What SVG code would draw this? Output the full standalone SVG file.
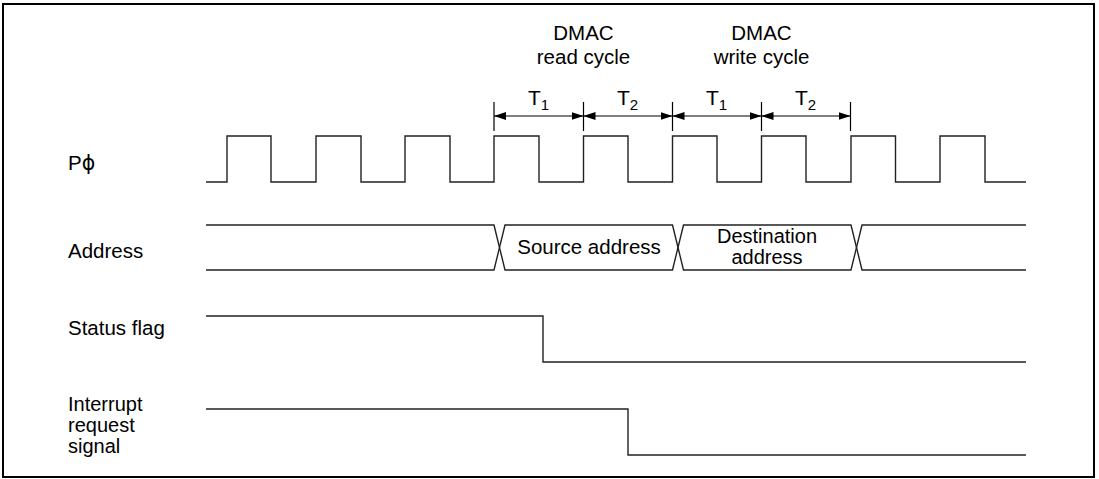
<svg xmlns="http://www.w3.org/2000/svg" width="1099" height="479" viewBox="0 0 1099 479">
<style>
text{font-family:"Liberation Sans",Arial,sans-serif;font-size:20.5px;fill:#000}
.sig{fill:none;stroke:#222;stroke-width:1.4}
.dim{fill:none;stroke:#000;stroke-width:1.2}
.mid{text-anchor:middle}
.sm{font-size:20px}
.t{font-size:21px}
.sub{font-size:15px}
</style>
<defs>
<marker id="ah" viewBox="0 0 12 8" refX="12" refY="4" markerWidth="12" markerHeight="8" markerUnits="userSpaceOnUse" orient="auto-start-reverse">
<path d="M0,0 L12,4 L0,8 Z" fill="#000"/>
</marker>
</defs>
<rect x="3" y="4" width="1091" height="473" fill="#fff" stroke="#000" stroke-width="2"/>

<g id="labels">
<text x="68" y="170">P<tspan style="font-family:'DejaVu Sans',sans-serif">ϕ</tspan></text>
<text x="68" y="258">Address</text>
<text x="68" y="335">Status flag</text>
<text class="sm" x="68" y="411">Interrupt</text>
<text class="sm" x="68" y="432">request</text>
<text class="sm" x="68" y="453">signal</text>
</g>

<g id="cycle-labels">
<text class="mid" x="583.5" y="40">DMAC</text>
<text class="mid" x="583.5" y="64">read cycle</text>
<text class="mid" x="761.5" y="40">DMAC</text>
<text class="mid" x="761.5" y="64">write cycle</text>
<text class="mid t" x="538.5" y="105">T<tspan class="sub" dy="5">1</tspan></text>
<text class="mid t" x="627.5" y="105">T<tspan class="sub" dy="5">2</tspan></text>
<text class="mid t" x="716.5" y="105">T<tspan class="sub" dy="5">1</tspan></text>
<text class="mid t" x="805.5" y="105">T<tspan class="sub" dy="5">2</tspan></text>
</g>

<g id="connectors">
<path class="dim" d="M494,102 V131 M583.5,102 V131 M672.5,102 V131 M761.5,102 V131 M850.5,102 V131"/>
<line class="dim" x1="494" y1="116" x2="583.5" y2="116" marker-start="url(#ah)" marker-end="url(#ah)"/>
<line class="dim" x1="583.5" y1="116" x2="672.5" y2="116" marker-start="url(#ah)" marker-end="url(#ah)"/>
<line class="dim" x1="672.5" y1="116" x2="761.5" y2="116" marker-start="url(#ah)" marker-end="url(#ah)"/>
<line class="dim" x1="761.5" y1="116" x2="850.5" y2="116" marker-start="url(#ah)" marker-end="url(#ah)"/>
</g>

<g id="clock">
<path class="sig" d="M206,182 H227 V136 H271 V182 H316 V136 H361 V182 H405 V136 H450 V182 H494 V136 H539 V182 H583.5 V136 H628 V182 H672.5 V136 H717 V182 H761.5 V136 H806 V182 H851 V136 H895.5 V182 H940 V136 H985 V182 H1026"/>
</g>

<g id="address">
<path class="sig" d="M206,225 H494 L505,270 H672.5 L683.5,225 H851 L862,270 H1026"/>
<path class="sig" d="M206,270 H494 L505,225 H672.5 L683.5,270 H851 L862,225 H1026"/>
<text class="mid" x="589" y="254">Source address</text>
<text class="mid sm" x="767" y="243">Destination</text>
<text class="mid sm" x="767" y="264">address</text>
</g>

<g id="status-flag">
<path class="sig" d="M206,316 H543 V362 H1026"/>
</g>

<g id="interrupt">
<path class="sig" d="M206,409 H628 V455 H1026"/>
</g>
</svg>
